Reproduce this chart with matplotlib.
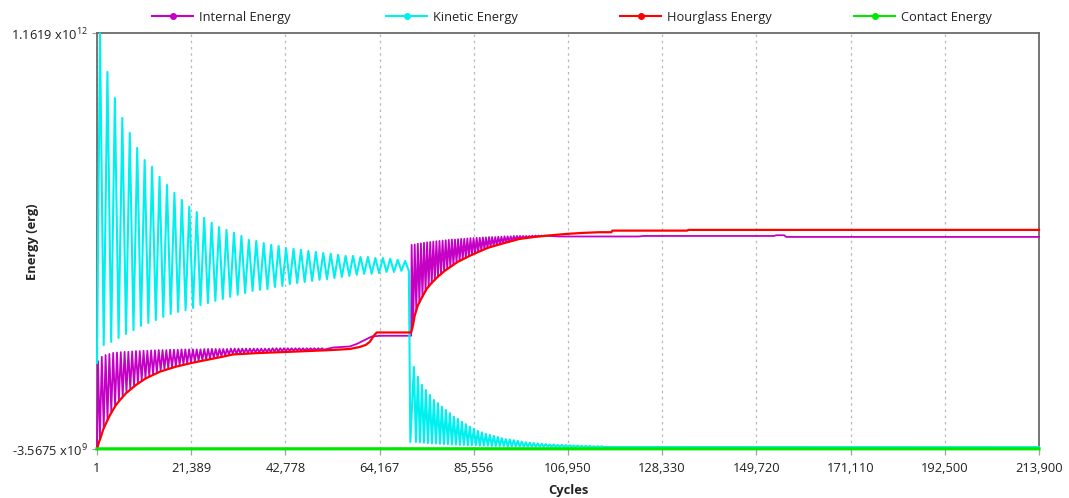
import numpy as np
import matplotlib
matplotlib.use('Agg')
import matplotlib.pyplot as plt
from matplotlib.lines import Line2D

plt.rcParams['font.family'] = ['Open Sans', 'DejaVu Sans']
plt.rcParams['mathtext.default'] = 'regular'

SCALE = 1e9  # energies below are in units of 1e9 erg

# ---------------- axes data ----------------
x_ticks = [1, 21389, 42778, 64167, 85556, 106950, 128330, 149720, 171110, 192500, 213900]
y_min, y_max = -3.5675, 1161.9
y_tick_labels = ['-3.5675 x10$^{9}$', '1.1619 x10$^{12}$']

series_names = ['Internal Energy', 'Kinetic Energy', 'Hourglass Energy', 'Contact Energy']
series_colors = ['#C400C4', '#00F0F0', '#FF0000', '#00E800']

# ---------------- Kinetic energy ----------------
ke_start_cycle, ke_start_val = 1, 238
ke1_first_peak, ke1_period = 680, 1690
ke1_peaks = [1161.9, 1054, 981, 925, 883, 841, 807, 788, 760, 737, 715, 695, 676, 661,
             645, 631, 619, 611, 603, 594, 583, 580, 574, 569, 566, 560, 558, 555, 552,
             549, 546, 544, 541, 538, 538, 535, 535, 532, 532, 530, 527, 524]
ke1_troughs = [288, 297, 308, 319, 330, 342, 350, 358, 367, 375, 381, 386, 392, 400,
               406, 412, 417, 423, 429, 434, 440, 443, 445, 451, 454, 459, 462, 465,
               468, 471, 473, 476, 479, 482, 485, 488, 488, 490, 493, 493, 496, 496]
ke_drop_cycle, ke_drop_val = 71150, 16
ke2_first_peak, ke2_period = 71965, 907
ke2_peaks = [227, 199, 176, 162, 148, 134, 125, 115, 106, 97, 87, 81, 73, 66, 59, 53,
             47, 43, 39, 36, 33, 30, 27, 24, 23, 21, 19, 17, 15, 14, 13, 12, 11, 10,
             9, 9, 8, 8, 7, 7, 6, 6, 5, 5, 5, 4, 4, 4]
ke2_troughs = [16, 15, 14, 13, 12, 12, 11, 10, 10, 9, 9, 8, 8, 7, 7, 7, 6, 6, 6, 5,
               5, 5, 5, 4, 4, 4, 4, 3, 3, 3, 3, 3, 3, 3, 2, 2, 2, 2, 2, 2, 2, 2, 2,
               2, 2, 2, 2, 2]
ke_tail_cycles = [117000, 160000, 213900]
ke_tail_vals = [2.0, 1.8, 1.7]

# ---------------- Internal energy ----------------
ie_start_cycle, ie_start_val = 1, 2
ie1_first_peak, ie1_period = 228, 862
ie1_peaks = [243, 255, 260, 263, 266, 267, 268, 269, 269, 270, 271, 271, 272, 272, 273,
             273, 274, 274, 274, 275, 275, 275, 276, 276, 276, 276, 276, 276, 277, 277,
             277, 277, 277, 277, 277, 278, 278, 278, 278, 278, 278, 278, 278, 278, 278,
             278, 279, 279, 279, 279, 279, 279, 279, 279, 279, 279, 279, 279, 279, 279]
ie1_troughs = [25, 56, 80, 100, 118, 132, 144, 156, 165, 174, 182, 189, 196, 201, 206,
               211, 216, 220, 223, 226, 229, 232, 234, 237, 239, 242, 244, 246, 248, 250,
               252, 254, 257, 259, 261, 264, 264, 265, 266, 266, 267, 268, 268, 268, 269,
               269, 270, 270, 271, 271, 272, 272, 273, 273, 273, 274, 274, 274, 275, 275]
ie1_tail_cycles = [53526, 57381, 58969, 60783, 62371, 64185, 70990, 71329]
ie1_tail_vals = [281, 284, 291, 302, 312, 314, 314, 314]
ie2_first_peak, ie2_period = 71443, 703
ie2_peaks = [569, 570, 572, 573, 575, 576, 577, 578, 579, 580, 581, 582, 583, 584, 584,
             585, 586, 586, 587, 588, 588, 589, 589, 590, 590, 591, 591, 591, 592, 592,
             593, 593, 593, 594, 594, 594, 594, 594, 594, 595, 595, 595, 595, 595, 595]
ie2_troughs = [347, 385, 408, 424, 440, 452, 462, 471, 480, 488, 495, 501, 507, 513, 519,
               524, 529, 533, 537, 541, 545, 549, 553, 557, 560, 563, 566, 568, 571, 573,
               576, 578, 580, 583, 585, 587, 588, 589, 590, 591, 592, 593, 593, 594, 594]
ie2_tail_cycles = [105009, 123000, 124000, 153771, 154225, 156039, 156493, 213900]
ie2_tail_vals = [592.5, 592.5, 594, 594, 596, 596, 591.3, 591.3]

# ---------------- Hourglass energy ----------------
hg_cycles = [1, 455, 908, 1362, 2042, 2949, 3630, 4310, 5217, 6578,
             8846, 11114, 14289, 17918, 21774, 25629, 28578, 30846, 36969, 42866,
             48309, 53525, 57381, 59649, 61010, 61917, 62824, 63505, 71216, 71329,
             71670, 72124, 72804, 73711, 74845, 75979, 77340, 78928, 81876, 85051,
             88680, 92535, 95937, 99339, 102741, 106597, 110226, 114081, 116803, 117030,
             134040, 134267, 213900]
hg_vals = [-3.5675, 16.1, 31, 49.7, 68.5, 91.8, 105.9, 119.9, 133.9, 152.7,
           176, 194.8, 213.3, 227.4, 238.6, 248.1, 255.4, 261.6, 265.8, 268.6,
           271.4, 274.2, 277, 282.6, 288.3, 296.7, 313.5, 323.3, 323.3, 323.3,
           338.8, 369.6, 397.7, 420.1, 445.4, 462.2, 479, 495.9, 521.1, 540.8,
           560.4, 574.4, 585.7, 591.3, 595.5, 599.7, 602.5, 604.5, 604.5, 609,
           609, 611, 611]

# ---------------- Contact energy ----------------
ce_cycles = [1, 71000, 142000, 213900]
ce_vals = [-3.2, -3.0, -3.0, -3.0]


def oscillation(first, period, peaks, troughs):
    n = len(peaks)
    tp = first + period * np.arange(n)
    t = np.empty(2 * n)
    v = np.empty(2 * n)
    t[0::2] = tp
    t[1::2] = tp + period / 2.0
    v[0::2] = peaks
    v[1::2] = troughs
    return t, v


k1t, k1v = oscillation(ke1_first_peak, ke1_period, ke1_peaks, ke1_troughs)
k2t, k2v = oscillation(ke2_first_peak, ke2_period, ke2_peaks, ke2_troughs)
ke_t = np.concatenate([[ke_start_cycle], k1t, [ke_drop_cycle], k2t, ke_tail_cycles])
ke_v = np.concatenate([[ke_start_val], k1v, [ke_drop_val], k2v, ke_tail_vals])

i1t, i1v = oscillation(ie1_first_peak, ie1_period, ie1_peaks, ie1_troughs)
i2t, i2v = oscillation(ie2_first_peak, ie2_period, ie2_peaks, ie2_troughs)
ie_t = np.concatenate([[ie_start_cycle], i1t, ie1_tail_cycles, i2t, ie2_tail_cycles])
ie_v = np.concatenate([[ie_start_val], i1v, ie1_tail_vals, i2v, ie2_tail_vals])

# ---------------- figure ----------------
W, H = 1069, 498
fig = plt.figure(figsize=(W / 100, H / 100), dpi=100)
L, R, T, B = 97, 1039, 33.5, 449
ax = fig.add_axes([L / W, 1 - B / H, (R - L) / W, (B - T) / H])

lws = [1.3, 1.5, 1.6, 2.3]
zs = [3, 4, 5, 6]
data = [(ie_t, ie_v), (ke_t, ke_v), (np.array(hg_cycles), np.array(hg_vals)),
        (np.array(ce_cycles), np.array(ce_vals))]
for i, (t, v) in enumerate(data):
    ax.plot(t, v * SCALE, color=series_colors[i], lw=lws[i], zorder=zs[i],
            clip_on=False, solid_joinstyle='round')

ax.set_xlim(x_ticks[0], x_ticks[-1])
ax.set_ylim(y_min * SCALE, y_max * SCALE)
ax.set_xticks(x_ticks)
ax.set_xticklabels([f'{v:,}' for v in x_ticks], fontsize=9.3, color='#222222')
ax.set_yticks([y_min * SCALE, y_max * SCALE])
ax.set_yticklabels(y_tick_labels, fontsize=9.3, color='#222222')
ax.tick_params(axis='x', length=4.5, width=0.9, color='#a0a0a0', pad=5)
ax.tick_params(axis='y', length=3.5, width=0.9, color='#a0a0a0', pad=3)

ax.grid(axis='x', linestyle=(0, (2, 3)), color='#b8b8b8', lw=0.9, zorder=1)
for s in ax.spines.values():
    s.set_color('#6a6a6a')
    s.set_linewidth(1.3)

ax.set_xlabel('Cycles', fontsize=9.3, fontweight='bold', labelpad=6, color='#222222')
ax.set_ylabel('Energy (erg)', fontsize=9.3, fontweight='bold', color='#222222')
ax.yaxis.set_label_coords((39 - L) / (R - L), 0.5)

# legend: four evenly spaced entries above the plot
slots = [152, 386, 620, 854]
for i, name in enumerate(series_names):
    h = Line2D([], [], color=series_colors[i], lw=1.5, marker='o', markersize=4)
    leg = fig.legend([h], [name], loc='center left',
                     bbox_to_anchor=(slots[i] / W, 1 - 17 / H),
                     frameon=False, borderpad=0, borderaxespad=0,
                     handlelength=3.2, handletextpad=0.45, fontsize=9.3)
    for txt in leg.get_texts():
        txt.set_color('#222222')

fig.savefig('out.png', dpi=100)
